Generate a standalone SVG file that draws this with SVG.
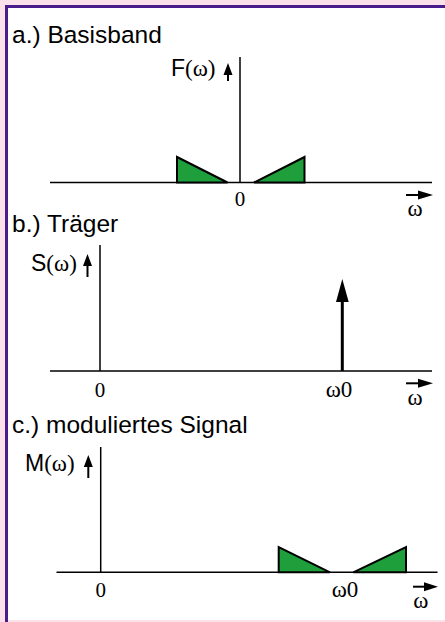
<svg xmlns="http://www.w3.org/2000/svg" width="445" height="622" viewBox="0 0 445 622">
<style>
.t{font-family:"Liberation Sans",Arial,sans-serif;font-size:24.5px;fill:#000}
.l{font-family:"Liberation Sans",Arial,sans-serif;font-size:23px;fill:#000}
.p{font-family:"Liberation Serif","Times New Roman",serif}
.s{font-family:"Liberation Serif","Times New Roman",serif;font-size:21px;fill:#000}
.w{font-size:23px}
.ax{stroke:#000;stroke-width:1.5;fill:none}
.sa{stroke:#000;stroke-width:2;fill:none}
.tri{fill:#1f9e3c;stroke:#000;stroke-width:2;stroke-linejoin:miter}
.ar{fill:#000}
</style>
<rect x="0" y="0" width="445" height="622" fill="#fbe2ea"/>
<rect x="8" y="8" width="437" height="612" fill="#fff"/>
<path d="M6.5 622 V6.5 H445" fill="none" stroke="#4a1c8c" stroke-width="3"/>

<g id="panel-a">
<text class="t" x="12" y="43">a.) Basisband</text>
<g id="a-axes">
<line class="ax" x1="50" y1="182.5" x2="432" y2="182.5"/>
<line class="ax" x1="240" y1="57" x2="240" y2="182.5"/>
</g>
<g id="a-label">
<text class="l" x="171" y="76">F<tspan class="p">(ω)</tspan></text>
<line class="sa" x1="228" y1="81" x2="228" y2="72"/>
<polygon class="ar" points="228,63 223.5,75 232.5,75"/>
</g>
<polygon class="tri" points="177,157 177,182.5 227.5,182.5"/>
<polygon class="tri" points="254,182.5 304.5,157 304.5,182.5"/>
<text class="s" x="240" y="206" text-anchor="middle">0</text>
<line class="sa" x1="406" y1="195" x2="420" y2="195"/>
<polygon class="ar" points="433,195 418,190.5 418,199.5"/>
<text class="s w" x="415" y="216" text-anchor="middle">ω</text>
</g>

<g id="panel-b">
<text class="t" x="12" y="232">b.) Träger</text>
<g id="b-axes">
<line class="ax" x1="50" y1="371" x2="432" y2="371"/>
<line class="ax" x1="100" y1="245" x2="100" y2="371"/>
</g>
<g id="b-label">
<text class="l" x="31" y="271">S<tspan class="p">(ω)</tspan></text>
<line class="sa" x1="87.5" y1="277" x2="87.5" y2="264"/>
<polygon class="ar" points="87.5,254 83,266 92,266"/>
</g>
<g id="carrier">
<line x1="342.3" y1="371" x2="342.3" y2="298" stroke="#000" stroke-width="3"/>
<polygon class="ar" points="342.3,279 336,302 348.7,302"/>
</g>
<text class="s" x="100" y="396.5" text-anchor="middle">0</text>
<text class="s w" x="339" y="396.5" text-anchor="middle">ω0</text>
<line class="sa" x1="406" y1="383.3" x2="420" y2="383.3"/>
<polygon class="ar" points="433,383.3 418,378.8 418,387.8"/>
<text class="s w" x="415" y="405" text-anchor="middle">ω</text>
</g>

<g id="panel-c">
<text class="t" x="12" y="433">c.) moduliertes Signal</text>
<g id="c-axes">
<line class="ax" x1="56.5" y1="572.3" x2="437.5" y2="572.3"/>
<line class="ax" x1="100.7" y1="447" x2="100.7" y2="572.3"/>
</g>
<g id="c-label">
<text class="l" x="25" y="471">M<tspan class="p">(ω)</tspan></text>
<line class="sa" x1="88.3" y1="478" x2="88.3" y2="465"/>
<polygon class="ar" points="88.3,455 83.8,467 92.8,467"/>
</g>
<polygon class="tri" points="278.7,547 278.7,572.3 330,572.3"/>
<polygon class="tri" points="353.3,572.3 406,547 406,572.3"/>
<text class="s" x="100.7" y="596.5" text-anchor="middle">0</text>
<text class="s w" x="345" y="596.5" text-anchor="middle">ω0</text>
<line class="sa" x1="413" y1="586.7" x2="426" y2="586.7"/>
<polygon class="ar" points="438,586.7 424,582.2 424,591.2"/>
<text class="s w" x="420.7" y="608" text-anchor="middle">ω</text>
</g>
</svg>
